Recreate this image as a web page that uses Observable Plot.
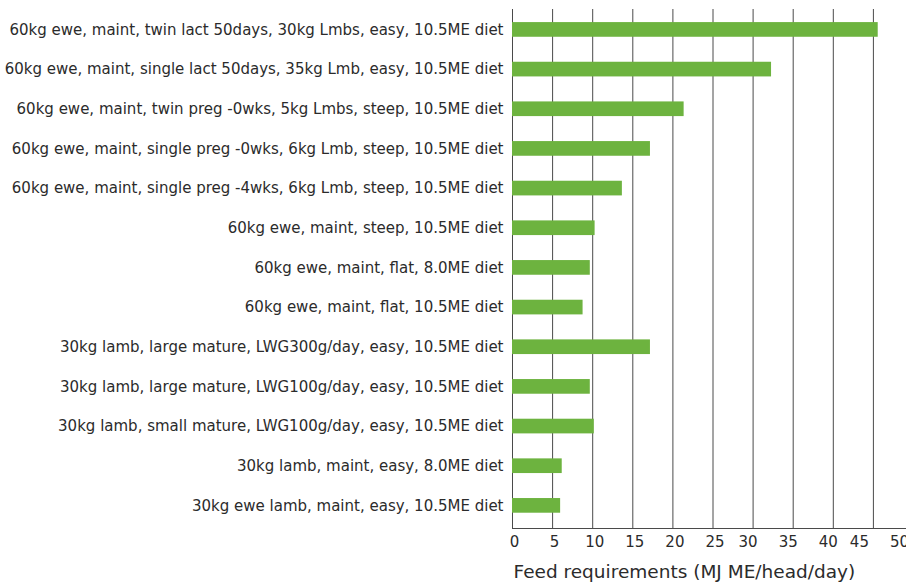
<!DOCTYPE html>
<html>
<head>
<meta charset="utf-8">
<script src="https://cdn.jsdelivr.net/npm/d3@7"></script>
<script src="https://cdn.jsdelivr.net/npm/@observablehq/plot@0.6"></script>
<style>
  html, body { margin: 0; padding: 0; background: #fff; overflow: hidden; }
  #chart svg { max-width: none !important; }
</style>
</head>
<body>
<div id="chart"></div>
<script>
const categories = [
  "60kg ewe, maint, twin lact 50days, 30kg Lmbs, easy, 10.5ME diet",
  "60kg ewe, maint, single lact 50days, 35kg Lmb, easy, 10.5ME diet",
  "60kg ewe, maint, twin preg -0wks, 5kg Lmbs, steep, 10.5ME diet",
  "60kg ewe, maint, single preg -0wks, 6kg Lmb, steep, 10.5ME diet",
  "60kg ewe, maint, single preg -4wks, 6kg Lmb, steep, 10.5ME diet",
  "60kg ewe, maint, steep, 10.5ME diet",
  "60kg ewe, maint, flat, 8.0ME diet",
  "60kg ewe, maint, flat, 10.5ME diet",
  "30kg lamb, large mature, LWG300g/day, easy, 10.5ME diet",
  "30kg lamb, large mature, LWG100g/day, easy, 10.5ME diet",
  "30kg lamb, small mature, LWG100g/day, easy, 10.5ME diet",
  "30kg lamb, maint, easy, 8.0ME diet",
  "30kg ewe lamb, maint, easy, 10.5ME diet"
];
const values = [45.6, 32.3, 21.4, 17.2, 13.7, 10.3, 9.7, 8.8, 17.2, 9.7, 10.2, 6.2, 6.0];
const xTicks = [0, 5, 10, 15, 20, 25, 30, 35, 40, 45, 50];
const xTicksLow = [0, 5, 10, 15, 20, 25];
const xTicksMid = [30, 35, 40];
const xTicksHigh = [45, 50];
const xTitle = "Feed requirements (MJ ME/head/day)";

const data = categories.map((c, i) => ({category: c, value: values[i]}));

const tickOpts = {tickSize: 0, tickPadding: 8, fontSize: 15, label: null};

const chart = Plot.plot({
  width: 930,
  height: 582,
  marginLeft: 512,
  marginRight: 17,
  marginTop: 9,
  marginBottom: 54,
  style: {fontFamily: "DejaVu Sans, sans-serif", color: "#2b2b2b", background: "#fff"},
  x: {domain: [0, 50], ticks: xTicks},
  y: {domain: categories, range: [9, 525.8], paddingInner: 0.63, paddingOuter: 0.33, round: false},
  marks: [
    Plot.gridX(xTicks, {stroke: "#4a4a4a", strokeOpacity: 1, strokeWidth: 1}),
    Plot.barX(data, {x: "value", y: "category", fill: "#6db33f"}),
    Plot.frame({anchor: "bottom", stroke: "#4a4a4a"}),
    Plot.axisY({tickSize: 0, tickPadding: 9, fontSize: 15, label: null}),
    Plot.axisX({...tickOpts, ticks: xTicksLow, dx: 2}),
    Plot.axisX({...tickOpts, ticks: xTicksMid, dx: -5}),
    Plot.axisX({...tickOpts, ticks: xTicksHigh, dx: -14}),
    Plot.text([xTitle], {frameAnchor: "bottom-left", textAnchor: "start", lineAnchor: "middle", dy: 44, dx: 1, fontSize: 18.5, fill: "#2b2b2b"})
  ]
});
document.getElementById("chart").appendChild(chart);
</script>
</body>
</html>
